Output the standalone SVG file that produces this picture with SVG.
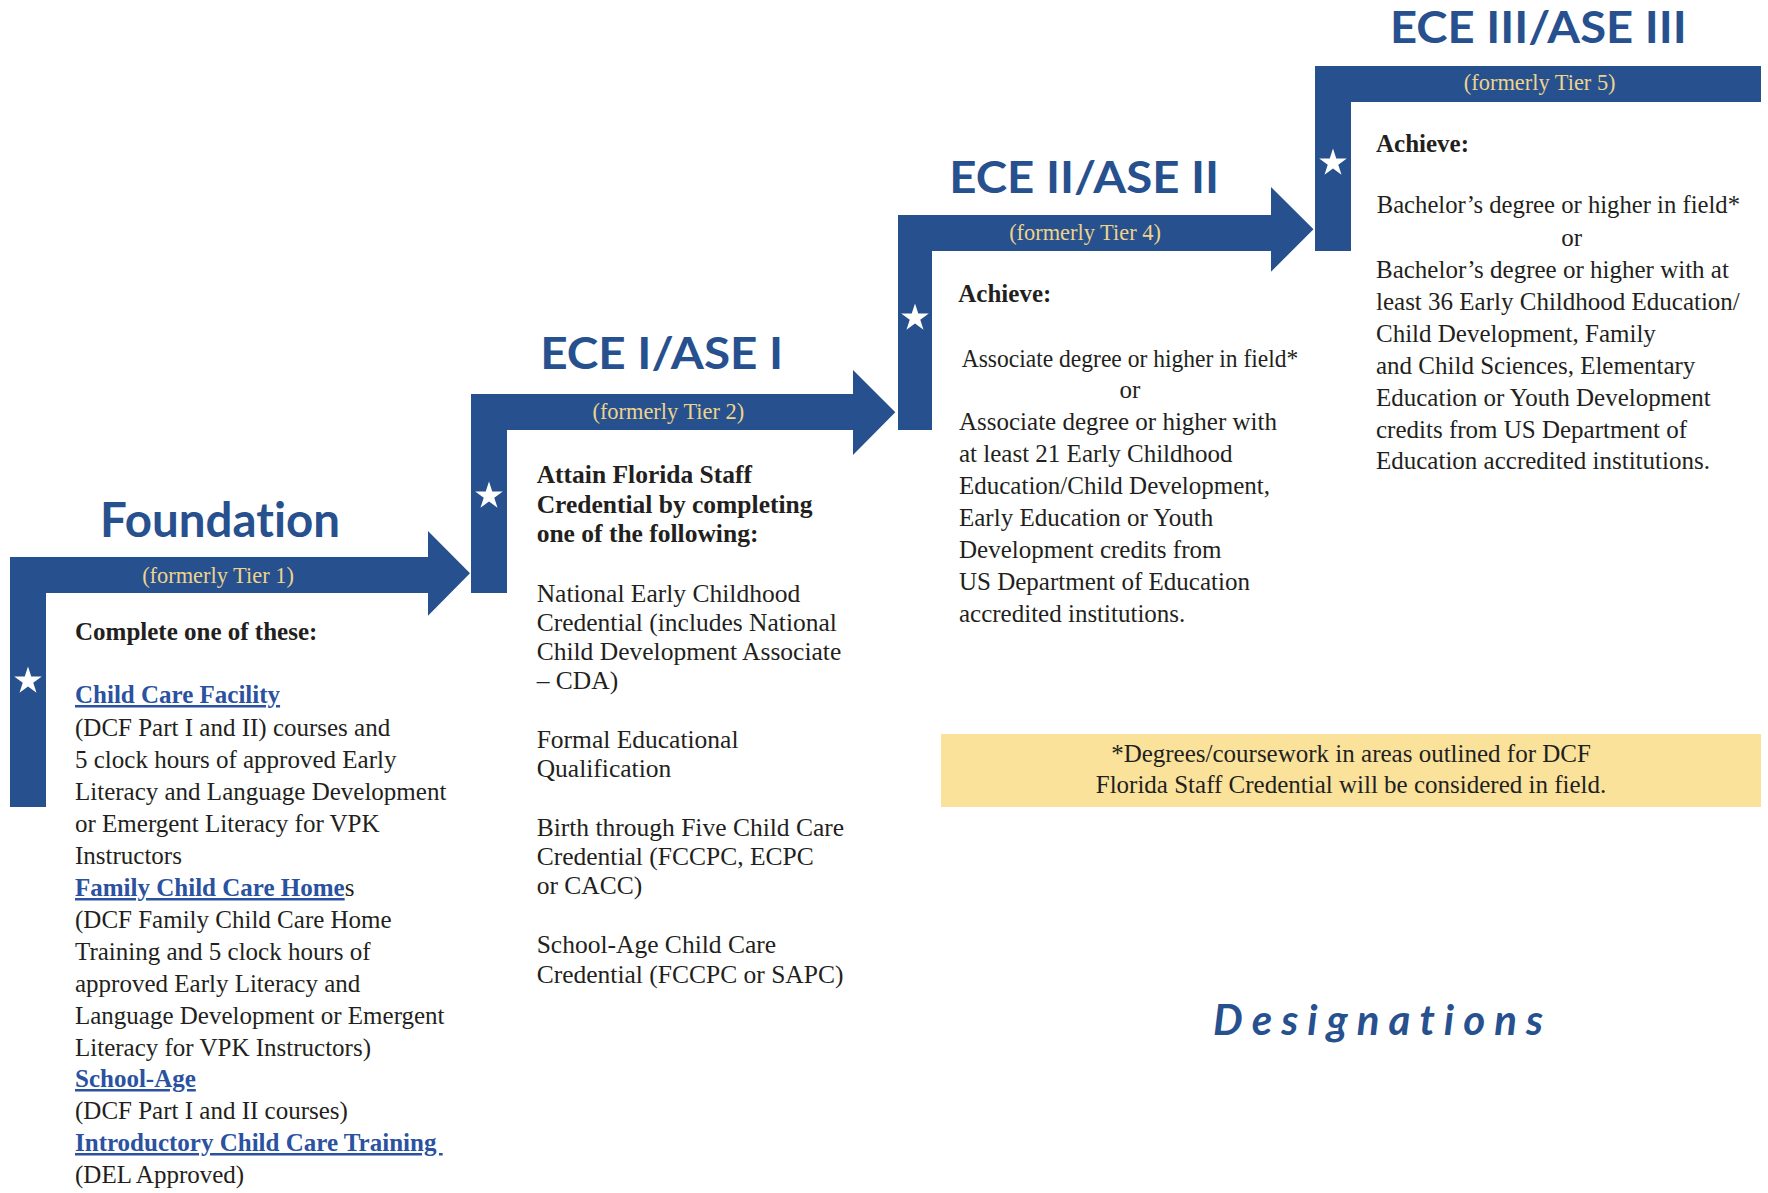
<svg xmlns="http://www.w3.org/2000/svg" xmlns:xlink="http://www.w3.org/1999/xlink" width="1768" height="1193" viewBox="0 0 1768 1193">
<style>
.bar{fill:#27508F}
.title{font-family:Lato,"Noto Sans",sans-serif;font-weight:700;fill:#27508F;font-variant-ligatures:none}
.tier{font-family:"Liberation Serif",serif;font-size:22.4px;fill:#EDD48C;text-anchor:middle}
.body{font-family:"Liberation Serif",serif;font-size:25px;fill:#231F20}
.e1{font-size:25.5px}
.e2{font-size:25px}
.b{font-weight:700}
.mid{text-anchor:middle}
.link{font-weight:700;fill:#2A52A0;text-decoration:underline}
.star{fill:#FFFFFF}
.note{fill:#FAE29B}
</style>
<defs>
<path id="star" class="star" d="M0,-14.5 L3.256,-4.482 L13.79,-4.48 L5.269,1.712 L8.523,11.731 L0,5.54 L-8.523,11.731 L-5.269,1.712 L-13.79,-4.48 L-3.256,-4.482 Z"/>
</defs>
<rect x="0" y="0" width="1768" height="1193" fill="#FFFFFF"/>

<g id="foundation">
<polygon class="bar" points="10,557 428,557 428,531 470,573.3 428,615.7 428,593 46,593 46,807 10,807"/>
<use href="#star" xlink:href="#star" x="28" y="681"/>
<text class="title" x="220" y="537" font-size="47" text-anchor="middle" textLength="240" lengthAdjust="spacingAndGlyphs">Foundation</text>
<text class="tier" x="218" y="583">(formerly Tier 1)</text>
<text class="body b" x="75" y="640">Complete one of these:</text>
<text class="body link" x="75" y="703">Child Care Facility</text>
<text class="body" x="75" y="736">(DCF Part I and II) courses and</text>
<text class="body" x="75" y="768">5 clock hours of approved Early</text>
<text class="body" x="75" y="800">Literacy and Language Development</text>
<text class="body" x="75" y="832">or Emergent Literacy for VPK</text>
<text class="body" x="75" y="864">Instructors</text>
<text class="body" x="75" y="896"><tspan class="link">Family Child Care Home</tspan>s</text>
<text class="body" x="75" y="928">(DCF Family Child Care Home</text>
<text class="body" x="75" y="960">Training and 5 clock hours of</text>
<text class="body" x="75" y="992">approved Early Literacy and</text>
<text class="body" x="75" y="1023.5">Language Development or Emergent</text>
<text class="body" x="75" y="1055.5">Literacy for VPK Instructors)</text>
<text class="body link" x="75" y="1087">School-Age</text>
<text class="body" x="75" y="1119">(DCF Part I and II courses)</text>
<text class="body link" x="75" y="1151" xml:space="preserve" style="white-space:pre">Introductory Child Care Training </text>
<text class="body" x="75" y="1183">(DEL Approved)</text>
</g>

<g id="ece1">
<polygon class="bar" points="471,394 853,394 853,370 895.3,412.3 853,455 853,430 507,430 507,593 471,593"/>
<use href="#star" xlink:href="#star" x="489" y="496"/>
<text class="title" x="661.7" y="369" font-size="43" text-anchor="middle" textLength="243" lengthAdjust="spacingAndGlyphs">ECE I/ASE I</text>
<text class="tier" x="668.3" y="419.3">(formerly Tier 2)</text>
<text class="body e1 b" x="536.7" y="483.3">Attain Florida Staff</text>
<text class="body e1 b" x="536.7" y="512.7">Credential by completing</text>
<text class="body e1 b" x="536.7" y="541.7">one of the following:</text>
<text class="body e1" x="536.7" y="601.7">National Early Childhood</text>
<text class="body e1" x="536.7" y="631">Credential (includes National</text>
<text class="body e1" x="536.7" y="660">Child Development Associate</text>
<text class="body e1" x="536.7" y="689.3">– CDA)</text>
<text class="body e1" x="536.7" y="747.7">Formal Educational</text>
<text class="body e1" x="536.7" y="776.7">Qualification</text>
<text class="body e1" x="536.7" y="836">Birth through Five Child Care</text>
<text class="body e1" x="536.7" y="865">Credential (FCCPC, ECPC</text>
<text class="body e1" x="536.7" y="894.3">or CACC)</text>
<text class="body e1" x="536.7" y="953.3">School-Age Child Care</text>
<text class="body e1" x="536.7" y="982.7">Credential (FCCPC or SAPC)</text>
</g>

<g id="ece2">
<polygon class="bar" points="898,215 1271,215 1271,187 1313.5,229.3 1271,271.7 1271,251 932,251 932,430 898,430"/>
<use href="#star" xlink:href="#star" x="915" y="318"/>
<text class="title" x="1084.2" y="193.3" font-size="43" text-anchor="middle" textLength="270" lengthAdjust="spacingAndGlyphs">ECE II/ASE II</text>
<text class="tier" x="1085" y="240">(formerly Tier 4)</text>
<text class="body e2 b" x="958.3" y="302.3">Achieve:</text>
<text class="body e2 mid" x="1130" y="366.7" textLength="336.7" lengthAdjust="spacingAndGlyphs">Associate degree or higher in field*</text>
<text class="body e2 mid" x="1130" y="398.3">or</text>
<text class="body e2" x="959" y="430">Associate degree or higher with</text>
<text class="body e2" x="959" y="462">at least 21 Early Childhood</text>
<text class="body e2" x="959" y="494">Education/Child Development,</text>
<text class="body e2" x="959" y="526">Early Education or Youth</text>
<text class="body e2" x="959" y="558">Development credits from</text>
<text class="body e2" x="959" y="590">US Department of Education</text>
<text class="body e2" x="959" y="622">accredited institutions.</text>
</g>

<g id="ece3">
<polygon class="bar" points="1315,66 1761,66 1761,102 1351,102 1351,251 1315,251"/>
<use href="#star" xlink:href="#star" x="1333" y="163"/>
<text class="title" x="1538.3" y="42.7" font-size="43" text-anchor="middle" textLength="296.7" lengthAdjust="spacingAndGlyphs">ECE III/ASE III</text>
<text class="tier" x="1539.7" y="90">(formerly Tier 5)</text>
<text class="body e2 b" x="1376" y="151.7">Achieve:</text>
<text class="body e2" x="1376.7" y="213.3" textLength="363.3" lengthAdjust="spacingAndGlyphs">Bachelor’s degree or higher in field*</text>
<text class="body e2 mid" x="1571.7" y="245.5">or</text>
<text class="body e2" x="1376" y="277.5">Bachelor’s degree or higher with at</text>
<text class="body e2" x="1376" y="309.5">least 36 Early Childhood Education/</text>
<text class="body e2" x="1376" y="341.5">Child Development, Family</text>
<text class="body e2" x="1376" y="373.5">and Child Sciences, Elementary</text>
<text class="body e2" x="1376" y="405.5">Education or Youth Development</text>
<text class="body e2" x="1376" y="437.5">credits from US Department of</text>
<text class="body e2" x="1376" y="469">Education accredited institutions.</text>
</g>

<g id="footnote">
<rect class="note" x="941" y="734" width="820" height="73"/>
<text class="body mid" x="1351" y="761.7">*Degrees/coursework in areas outlined for DCF</text>
<text class="body mid" x="1351" y="793.3">Florida Staff Credential will be considered in field.</text>
</g>

<g id="designations">
<text class="title" x="1213" y="1035" font-size="42" font-style="italic" textLength="330" lengthAdjust="spacing">Designations</text>
</g>
</svg>
